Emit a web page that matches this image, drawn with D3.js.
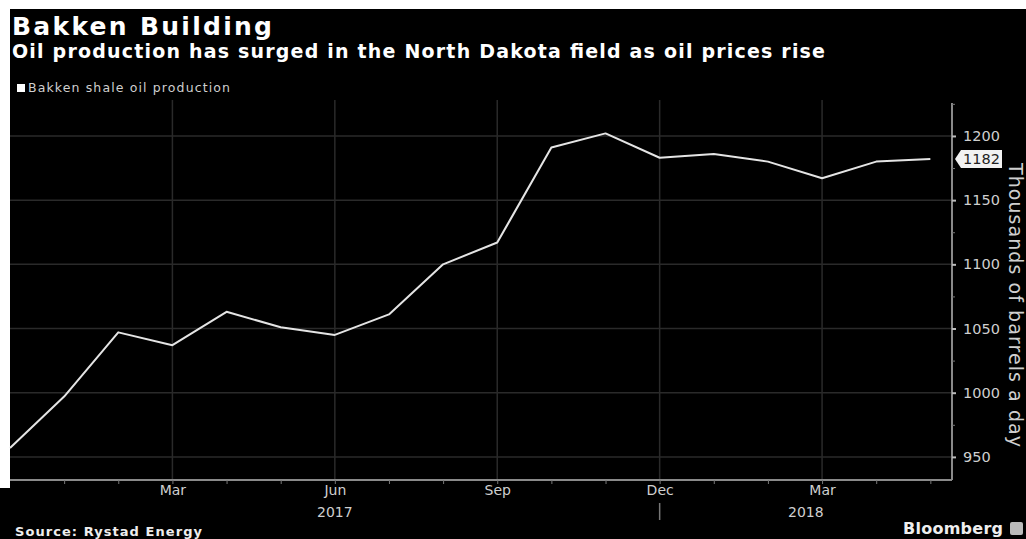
<!DOCTYPE html>
<html>
<head>
<meta charset="utf-8">
<script src="https://cdn.jsdelivr.net/npm/d3@7"></script>
<style>
  body { margin: 0; background: #000; }
  svg { display: block; }
</style>
</head>
<body>
<div id="chart"></div>
<script>
// données (milliers de barils / jour)
const months = ["Dec 2016", "Jan 2017", "Feb 2017", "Mar 2017", "Apr 2017", "May 2017", "Jun 2017",
  "Jul 2017", "Aug 2017", "Sep 2017", "Oct 2017", "Nov 2017", "Dec 2017",
  "Jan 2018", "Feb 2018", "Mar 2018", "Apr 2018", "May 2018"];
const production = [957, 997, 1047, 1037, 1063, 1051, 1045, 1061, 1100, 1117,
  1191, 1202, 1183, 1186, 1180, 1167, 1180, 1182];

const yTicks = [950, 1000, 1050, 1100, 1150, 1200];
const yMinorTicks = [975, 1025, 1075, 1125, 1175, 1225];
const monthTicks = [3, 6, 9, 12, 15];
const monthLabels = ["Mar", "Jun", "Sep", "Dec", "Mar"];
const years = [
  { label: "2017", from: 0, to: 12 },
  { label: "2018", from: 12, to: 17.4 }
];

const W = 1026, H = 539;
const plot = { left: 10, right: 952, top: 100, bottom: 480 };

const svg = d3.select("#chart")
  .append("svg")
  .attr("width", W)
  .attr("height", H);

// fond
svg.append("rect").attr("width", W).attr("height", H).attr("fill", "#000");
svg.append("rect").attr("x", 0).attr("y", 0).attr("width", W).attr("height", 9).attr("fill", "#fff");
svg.append("rect").attr("x", 0).attr("y", 0).attr("width", 10).attr("height", 488).attr("fill", "#fff");

// échelles
const x = d3.scaleLinear()
  .domain([0, 17.4])
  .range([plot.left, plot.right]);

const y = d3.scaleLinear()
  .domain([932, 1228])
  .range([plot.bottom, plot.top]);

// grille
svg.append("g")
  .selectAll("line")
  .data(yTicks)
  .enter()
  .append("line")
  .attr("x1", plot.left).attr("x2", plot.right)
  .attr("y1", d => y(d)).attr("y2", d => y(d))
  .attr("stroke", "#2a2a2a")
  .attr("stroke-width", 1.5);

svg.append("g")
  .selectAll("line")
  .data(monthTicks)
  .enter()
  .append("line")
  .attr("x1", d => x(d)).attr("x2", d => x(d))
  .attr("y1", plot.top).attr("y2", plot.bottom)
  .attr("stroke", "#2a2a2a")
  .attr("stroke-width", 1.5);

// axe X
const axisX = svg.append("g")
  .attr("transform", "translate(0," + plot.bottom + ")")
  .call(d3.axisBottom(x)
    .tickValues(d3.range(1, 18))
    .tickSize(4)
    .tickFormat(""));
axisX.select(".domain").attr("stroke", "#8a8a8a").attr("stroke-width", 2)
  .attr("d", "M" + plot.left + ",0H" + plot.right);
axisX.selectAll(".tick line").attr("stroke", "#777");

const labelsX = svg.append("g")
  .attr("transform", "translate(0," + plot.bottom + ")")
  .call(d3.axisBottom(x)
    .tickValues(monthTicks)
    .tickSize(0)
    .tickPadding(5)
    .tickFormat((d, i) => monthLabels[i]));
labelsX.select(".domain").remove();
labelsX.selectAll("text")
  .style("font-family", "DejaVu Sans")
  .style("font-size", "14px")
  .attr("fill", "#cfcfcf");

svg.append("g")
  .selectAll("text")
  .data(years)
  .enter()
  .append("text")
  .text(d => d.label)
  .attr("x", d => (x(d.from) + x(d.to)) / 2)
  .attr("y", 517)
  .attr("text-anchor", "middle")
  .style("font-family", "DejaVu Sans")
  .style("font-size", "14px")
  .attr("fill", "#cfcfcf");

// séparateur d'année
svg.append("line")
  .attr("x1", x(12)).attr("x2", x(12))
  .attr("y1", 503).attr("y2", 520)
  .attr("stroke", "#777")
  .attr("stroke-width", 1.5);

// axe Y (à droite)
const axisY = svg.append("g")
  .attr("transform", "translate(" + plot.right + ",0)")
  .call(d3.axisRight(y)
    .tickValues(yTicks)
    .tickSize(4)
    .tickPadding(7)
    .tickFormat(d3.format("d")));
axisY.select(".domain").attr("stroke", "#8a8a8a").attr("stroke-width", 2)
  .attr("d", "M0," + (plot.top + 3) + "V" + plot.bottom);
axisY.selectAll(".tick line").attr("stroke", "#bbb").attr("stroke-width", 2);
axisY.selectAll("text")
  .style("font-family", "DejaVu Sans")
  .style("font-size", "14.5px")
  .attr("fill", "#cfcfcf");

const minorY = svg.append("g")
  .attr("transform", "translate(" + plot.right + ",0)")
  .call(d3.axisRight(y)
    .tickValues(yMinorTicks.filter(v => y(v) > plot.top + 3))
    .tickSize(3)
    .tickFormat(""));
minorY.select(".domain").remove();
minorY.selectAll(".tick line").attr("stroke", "#777");

// la ligne
svg.append("path")
  .datum(production)
  .attr("fill", "none")
  .attr("stroke", "#e4e4e4")
  .attr("stroke-width", 2)
  .attr("stroke-linejoin", "round")
  .attr("d", d3.line()
    .x((d, i) => x(i))
    .y(d => y(d)));

// étiquette de la dernière valeur
const last = production[production.length - 1];
const ly = y(last);
svg.append("path")
  .attr("d", "M955," + ly + "L961," + (ly - 9) + "H1002V" + (ly + 9) + "H961Z")
  .attr("fill", "#f2f2f2");
svg.append("text")
  .text(last)
  .attr("x", 963)
  .attr("y", ly + 5)
  .style("font-family", "DejaVu Sans")
  .style("font-size", "14.5px")
  .attr("fill", "#222");

// titre de l'axe
svg.append("text")
  .text("Thousands of barrels a day")
  .attr("transform", "translate(1009,305) rotate(90)")
  .attr("text-anchor", "middle")
  .attr("textLength", 284)
  .style("font-family", "DejaVu Sans")
  .style("font-size", "19px")
  .attr("fill", "#cfcfcf");

// titres
svg.append("text")
  .text("Bakken Building")
  .attr("x", 12)
  .attr("y", 35)
  .attr("textLength", 260)
  .style("font-family", "DejaVu Sans")
  .style("font-weight", "bold")
  .style("font-size", "25px")
  .attr("fill", "#fff");

svg.append("text")
  .text("Oil production has surged in the North Dakota field as oil prices rise")
  .attr("x", 12)
  .attr("y", 58)
  .attr("textLength", 813)
  .style("font-family", "DejaVu Sans")
  .style("font-weight", "bold")
  .style("font-size", "19px")
  .attr("fill", "#fff");

// légende
svg.append("rect")
  .attr("x", 17).attr("y", 84)
  .attr("width", 8).attr("height", 8)
  .attr("fill", "#fff");
svg.append("text")
  .text("Bakken shale oil production")
  .attr("x", 28)
  .attr("y", 92)
  .attr("textLength", 202)
  .style("font-family", "DejaVu Sans")
  .style("font-size", "12.5px")
  .attr("fill", "#cfcfcf");

// source
svg.append("text")
  .text("Source: Rystad Energy")
  .attr("x", 15)
  .attr("y", 536)
  .attr("textLength", 187)
  .style("font-family", "DejaVu Sans")
  .style("font-weight", "bold")
  .style("font-size", "13px")
  .attr("fill", "#eee");

svg.append("text")
  .text("Bloomberg")
  .attr("x", 1003)
  .attr("y", 534)
  .attr("text-anchor", "end")
  .attr("textLength", 100)
  .style("font-family", "DejaVu Sans")
  .style("font-weight", "bold")
  .style("font-size", "16px")
  .attr("fill", "#eee");
svg.append("rect")
  .attr("x", 1010).attr("y", 522)
  .attr("width", 13).attr("height", 13)
  .attr("rx", 2)
  .attr("fill", "#bbb");
</script>
</body>
</html>
